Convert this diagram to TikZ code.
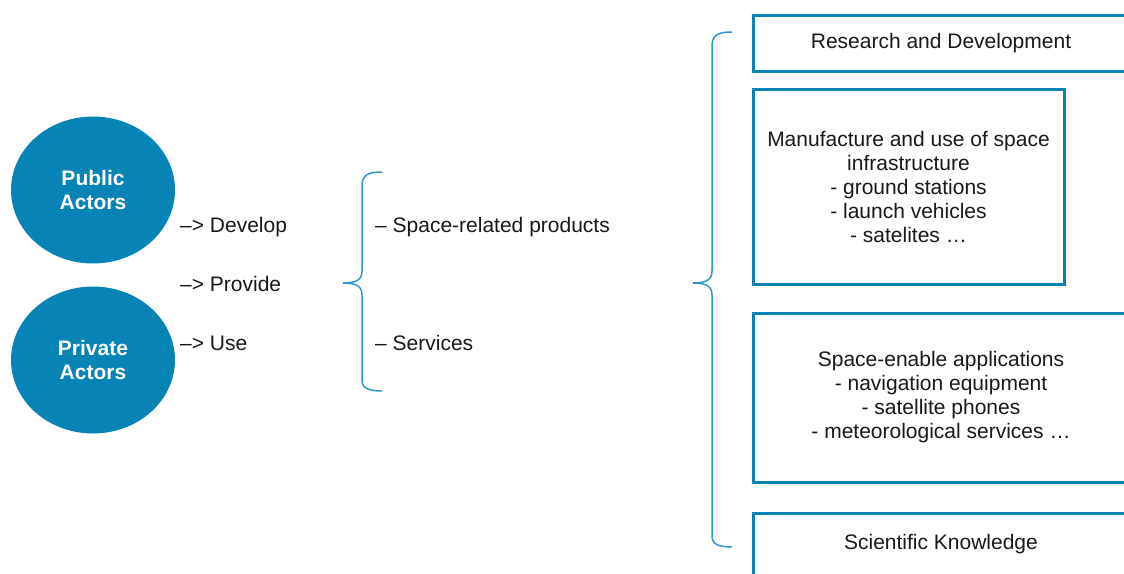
\documentclass[tikz,border=0pt]{standalone}
\usepackage{fontspec}
\setmainfont{Liberation Sans}
\usetikzlibrary{shapes.geometric}
\definecolor{actblue}{HTML}{0784B5}
\definecolor{brblue}{HTML}{2E98CC}
\begin{document}
\begin{tikzpicture}[x=1pt,y=-1pt,
  every node/.style={font=\fontsize{21}{24}\selectfont, inner sep=0pt},
  actor/.style={ellipse, fill=actblue, text=white, font=\fontsize{21}{24}\selectfont\bfseries, align=center, minimum width=164pt, minimum height=147pt},
  lbl/.style={anchor=base west, text=black!90},
  infobox/.style={draw=actblue, line width=3pt, align=center, text=black!90},
  bracestyle/.style={draw=brblue, line width=1.5pt}]
\clip (0,0) rectangle (1124,573);
\fill[white] (0,0) rectangle (1124,573);
% actors
\node[actor] (pub) at (93,190) {Public\\Actors};
\node[actor] (priv) at (93,360) {Private\\Actors};
% verbs
\node[lbl] (dev) at (180,232) {–> Develop};
\node[lbl] (prov) at (180,291) {–> Provide};
\node[lbl] (use) at (180,350) {–> Use};
% first brace
\draw[bracestyle] (382,172) .. controls (368,172) and (362,175) .. (362,186) -- (362,271) .. controls (362,280) and (356,283) .. (343,283) .. controls (356,283) and (362,286) .. (362,295) -- (362,380) .. controls (362,388) and (368,391) .. (382,391);
\node[lbl] (prod) at (375,232) {– Space-related products};
\node[lbl] (serv) at (375,350) {– Services};
% second brace
\draw[bracestyle] (732,32) .. controls (718,32) and (712,35) .. (712,46) -- (712,271) .. controls (712,280) and (706,283) .. (693,283) .. controls (706,283) and (712,286) .. (712,295) -- (712,536) .. controls (712,544) and (718,547) .. (732,547);
% boxes
\node[infobox, minimum width=375pt, minimum height=56pt] (rd) at (941,43) {Research and Development};
\node[infobox, minimum width=311pt, minimum height=195pt] (man) at (908.5,186.5) {Manufacture and use of space\\infrastructure\\- ground stations\\- launch vehicles\\- satelites \ldots};
\node[infobox, minimum width=375pt, minimum height=169pt] (app) at (941,397.5) {Space-enable applications\\- navigation equipment\\- satellite phones\\- meteorological services \ldots};
\node[infobox, minimum width=375pt, minimum height=62pt] (sci) at (941,544) {Scientific Knowledge};
\end{tikzpicture}
\end{document}
